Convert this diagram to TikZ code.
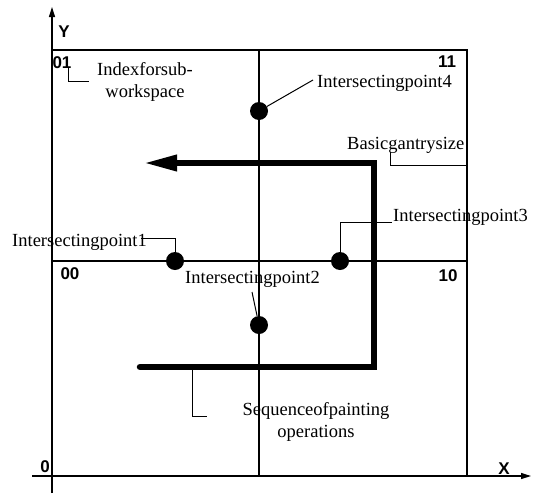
\documentclass[tikz,border=0pt]{standalone}
\usepackage{fontspec}
\setmainfont{Liberation Serif}
\newfontfamily\lsans{Liberation Sans}
\usetikzlibrary{arrows.meta}
\begin{document}
\begin{tikzpicture}[x=1pt,y=-1pt,
  lbl/.style={font=\fontsize{18.5}{21.5}\selectfont, inner sep=0pt, align=center},
  idx/.style={font=\lsans\bfseries\fontsize{17}{17}\selectfont, inner sep=0pt},
  dot/.style={circle, fill=black, minimum size=18pt, inner sep=0pt},
  leader/.style={line width=1pt},
  frame/.style={line width=1.3pt},
  axis/.style={line width=1.3pt, -{Triangle[length=10pt,width=6pt]}},
  seq/.style={line width=6.5pt, line cap=round, line join=miter, -{Triangle[length=34pt,width=15pt]}}]
\useasboundingbox (0,0) rectangle (538,493);
% frame of the workspace
\draw[frame] (52,50) -- (467,50) -- (467,476);
\draw[frame] (259,50) -- (259,476);
\draw[frame] (52,261) -- (467,261);
% axes
\coordinate (yb) at (52,493);
\coordinate (yt) at (52,7);
\coordinate (xl) at (32,476);
\coordinate (xr) at (531,476);
\draw[axis] (yb) -- (yt);
\draw[axis] (xl) -- (xr);
\node[idx] (ly) at (64,32) {Y};
\node[idx] (lx) at (504,469) {X};
\node[idx] (l0) at (45,467) {0};
% sub-workspace indices
\node[idx] (i01) at (62,63) {01};
\node[idx] (i11) at (447,62) {11};
\node[idx] (i00) at (70,274) {00};
\node[idx] (i10) at (448,276) {10};
% sequence of painting operations
\coordinate (s0) at (140,367);
\coordinate (s1) at (374,367);
\coordinate (s2) at (374,163);
\coordinate (s3) at (143,163);
\draw[seq] (s0) -- (s1) -- (s2) -- (s3);
% intersecting points
\node[dot] (p1) at (175,261) {};
\node[dot] (p2) at (259,325) {};
\node[dot] (p3) at (340,261) {};
\node[dot] (p4) at (259,111) {};
% labels
\node[lbl, anchor=base west] (t4) at (317,87) {Intersectingpoint4};
\node[lbl, anchor=base west] (tb) at (347,149) {Basicgantrysize};
\node[lbl, anchor=base west] (t1) at (12,246) {Intersectingpoint1};
\node[lbl, anchor=base west] (t3) at (393,221) {Intersectingpoint3};
\node[lbl, anchor=base west] (t2) at (185,283) {Intersectingpoint2};
\node[lbl] (tidx) at (145,82) {Indexforsub-\\workspace};
\node[lbl] (tseq) at (316,422) {Sequenceofpainting\\operations};
% leaders
\coordinate (c4) at (313,80);
\draw[leader] (p4) -- (c4);
\coordinate (cb1) at (390,152);
\coordinate (cb2) at (467,165);
\draw[leader] (cb1) |- (cb2);
\coordinate (c1) at (141,238);
\draw[leader] (c1) -| (p1);
\coordinate (c3) at (392,222);
\draw[leader] (c3) -| (p3);
\coordinate (c2) at (252,292);
\draw[leader] (c2) -- (p2);
\coordinate (ci1) at (68,67);
\coordinate (ci2) at (89,81);
\draw[leader] (ci1) |- (ci2);
\coordinate (cs1) at (192,367);
\coordinate (cs2) at (207,416);
\draw[leader] (cs1) |- (cs2);
\end{tikzpicture}
\end{document}
